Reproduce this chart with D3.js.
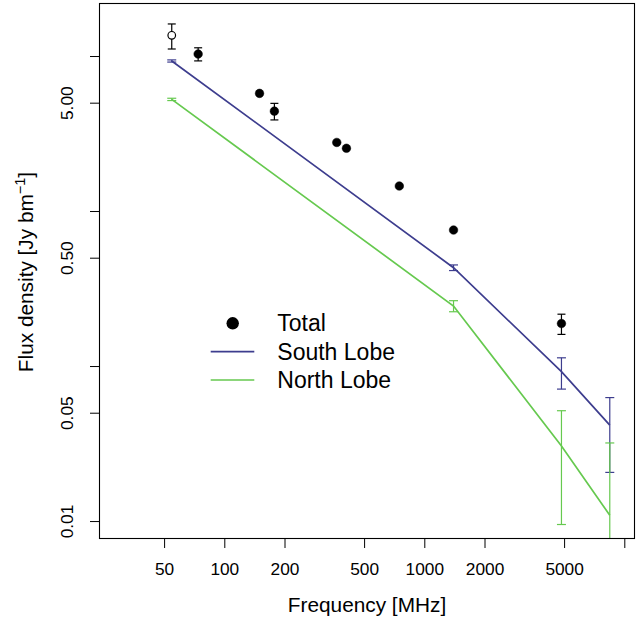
<!DOCTYPE html>
<html><head><meta charset="utf-8">
<script src="https://cdn.jsdelivr.net/npm/d3@7"></script>
<style>body{margin:0;background:#fff}svg{display:block}</style>
</head><body><svg id="c" width="643" height="619"></svg>
<script>
// ---- data ----
const totalFreq = [54.6, 74, 150, 178, 365, 408, 750, 1400, 4850];
const totalFlux = [13.6, 10.3, 5.74, 4.41, 2.77, 2.54, 1.45, 0.754, 0.188];
const totalErr  = [2.5, 1.0, 0, 0.54, 0, 0, 0, 0, 0.028];
const totalOpen = [true, false, false, false, false, false, false, false, false];

const lobeFreq  = [54.6, 1400, 4850, 8460];
const southFlux = [9.29, 0.431, 0.092, 0.0416];
const southErr  = [0.15, 0.018, 0.021, 0.021];
const northFlux = [5.25, 0.244, 0.0305, 0.0109];
const northErr  = [0.09, 0.02, 0.021, 0.021];

const xTicks = [50, 100, 200, 500, 1000, 2000, 5000, 10000];
const xTickLabels = ["50", "100", "200", "500", "1000", "2000", "5000", ""];
const yTicks = [0.01, 0.05, 0.1, 0.5, 1, 5, 10];
const yTickLabels = ["0.01", "0.05", "", "0.50", "", "5.00", ""];

const legendLabels = ["Total", "South Lobe", "North Lobe"];
const colSouth = "#3d3d8e", colNorth = "#66c94f";

// ---- layout ----
const L = 99, R = 635, T = 3, B = 539;
const FONT = "'Liberation Sans', Arial, Helvetica, sans-serif";
const svg = d3.select("#c");
svg.append("rect").attr("width",643).attr("height",619).attr("fill","#fff");

const x = d3.scaleLog().domain([23.63, 11310]).range([L, R]);
const y = d3.scaleLog().domain([0.00766, 21.98]).range([B, T]);

svg.append("clipPath").attr("id","clip").append("rect")
  .attr("x",L).attr("y",T).attr("width",R-L).attr("height",B-T);
const plot = svg.append("g").attr("clip-path","url(#clip)");

// error bars helper
function errBars(g, fr, v, e, color, cap){
  fr.forEach((f,i)=>{
    if(!e[i]) return;
    const cx = x(f);
    const hi = v[i]+e[i], lo = v[i]-e[i];
    const yhi = y(hi);
    const ylo = lo>0 ? y(lo) : B+5;
    g.append("line").attr("x1",cx).attr("x2",cx).attr("y1",yhi).attr("y2",ylo)
      .attr("stroke",color).attr("stroke-width",1.2);
    g.append("line").attr("x1",cx-cap).attr("x2",cx+cap).attr("y1",yhi).attr("y2",yhi)
      .attr("stroke",color).attr("stroke-width",1.2);
    if(lo>0) g.append("line").attr("x1",cx-cap).attr("x2",cx+cap).attr("y1",ylo).attr("y2",ylo)
      .attr("stroke",color).attr("stroke-width",1.2);
  });
}

const line = d3.line().x(d=>x(d[0])).y(d=>y(d[1]));
// south lobe
plot.append("path").datum(lobeFreq.map((f,i)=>[f,southFlux[i]]))
  .attr("d",line).attr("fill","none").attr("stroke",colSouth).attr("stroke-width",1.7);
errBars(plot, lobeFreq, southFlux, southErr, colSouth, 4.5);
// north lobe
plot.append("path").datum(lobeFreq.map((f,i)=>[f,northFlux[i]]))
  .attr("d",line).attr("fill","none").attr("stroke",colNorth).attr("stroke-width",1.7);
errBars(plot, lobeFreq, northFlux, northErr, colNorth, 4.5);

// total
errBars(plot, totalFreq, totalFlux, totalErr, "#000", 4);
plot.selectAll("circle.tot").data(totalFreq).enter().append("circle")
  .attr("cx",d=>x(d)).attr("cy",(d,i)=>y(totalFlux[i])).attr("r",(d,i)=>totalOpen[i]?3.8:4.3)
  .attr("fill",(d,i)=>totalOpen[i]?"#fff":"#000").attr("stroke","#000").attr("stroke-width",(d,i)=>totalOpen[i]?1.2:0.5);

// frame
svg.append("rect").attr("x",L+0.5).attr("y",T+0.5).attr("width",R-L-1).attr("height",B-T-1)
  .attr("fill","none").attr("stroke","#000").attr("stroke-width",1.1);

// axes
const xa = svg.append("g").attr("transform",`translate(0,${B})`)
  .call(d3.axisBottom(x).tickValues(xTicks).tickFormat((d,i)=>xTickLabels[i]).tickSize(9).tickSizeOuter(0));
xa.select(".domain").remove();
xa.selectAll("line").attr("stroke","#000").attr("stroke-width",1);
xa.selectAll("text").attr("y",36).attr("dy",0).attr("fill","#000")
  .style("font-family",FONT).style("font-size","17.3px");

const ya = svg.append("g").attr("transform",`translate(${L},0)`)
  .call(d3.axisLeft(y).tickValues(yTicks).tickFormat((d,i)=>yTickLabels[i]).tickSize(9).tickSizeOuter(0));
ya.select(".domain").remove();
ya.selectAll("line").attr("stroke","#000").attr("stroke-width",1);
ya.selectAll("text").attr("x",0).attr("y",-26).attr("dy",0).attr("transform","rotate(-90)")
  .attr("text-anchor","middle").attr("fill","#000")
  .style("font-family",FONT).style("font-size","17.3px");

// axis titles
svg.append("text").attr("x",367).attr("y",612).attr("text-anchor","middle")
  .style("font-family",FONT).style("font-size","20.8px").text("Frequency [MHz]");
const yt = svg.append("text").attr("transform","translate(33,272) rotate(-90)").attr("text-anchor","middle")
  .style("font-family",FONT).style("font-size","20.8px");
yt.append("tspan").text("Flux density [Jy bm");
yt.append("tspan").attr("dy",-8).style("font-size","14.5px").text("\u22121");
yt.append("tspan").attr("dy",8).text("]");

// legend
const lg = svg.append("g");
lg.append("circle").attr("cx",232.7).attr("cy",323.3).attr("r",6.2).attr("fill","#000");
lg.append("line").attr("x1",210.7).attr("x2",254.3).attr("y1",351.7).attr("y2",351.7)
  .attr("stroke",colSouth).attr("stroke-width",1.7);
lg.append("line").attr("x1",210.7).attr("x2",254.3).attr("y1",380).attr("y2",380)
  .attr("stroke",colNorth).attr("stroke-width",1.7);
legendLabels.forEach((t,i)=>{
  lg.append("text").attr("x",277.3).attr("y",331.3+28.3*i)
    .style("font-family",FONT).style("font-size","23px").text(t);
});
</script>
</body></html>
